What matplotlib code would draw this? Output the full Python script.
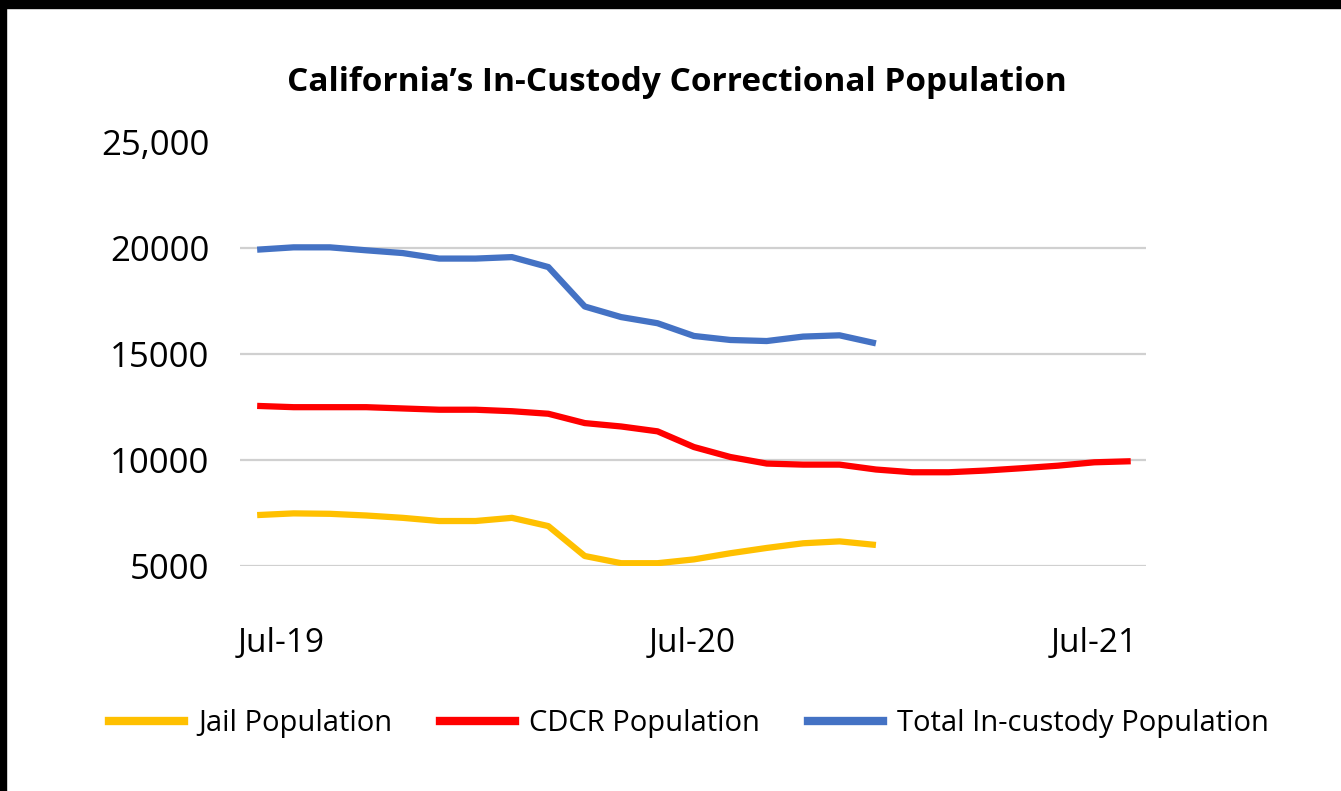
import matplotlib
matplotlib.use("Agg")
import matplotlib.pyplot as plt
from matplotlib.lines import Line2D

# monthly, Jul-19 .. Jul-21
months = list(range(25))
jail = [7400, 7480, 7460, 7380, 7270, 7120, 7120, 7270, 6880, 5470,
        5130, 5130, 5310, 5600, 5850, 6070, 6160, 5990]
cdcr = [12550, 12490, 12490, 12490, 12430, 12370, 12370, 12300, 12180, 11740,
        11580, 11350, 10610, 10140, 9830, 9780, 9780, 9550, 9420, 9420,
        9500, 9610, 9730, 9890, 9940]
total = [19920, 20030, 20030, 19890, 19760, 19500, 19500, 19570, 19100, 17240,
         16740, 16450, 15850, 15660, 15610, 15820, 15880, 15500]
ytick_vals = [5000, 10000, 15000, 20000, 25000]
ytick_labels = ["5000", "10000", "15000", "20000", "25,000"]
xtick_labels = ["Jul-19", "Jul-20", "Jul-21"]

c_jail = "#FFC000"
c_cdcr = "#FF0000"
c_total = "#4472C4"

plt.rcParams['font.family'] = ['Open Sans', 'DejaVu Sans']

fig = plt.figure(figsize=(13.41, 7.91), dpi=100)
ax = fig.add_axes([0.179, 0.2845, 0.6756, 0.5360])

lw = 4.5
ax.plot(months[:len(jail)], jail, color=c_jail, lw=lw, solid_capstyle="butt")
ax.plot(months[:len(cdcr)], cdcr, color=c_cdcr, lw=lw, solid_capstyle="butt")
ax.plot(months[:len(total)], total, color=c_total, lw=lw, solid_capstyle="butt")

ax.set_xlim(-0.47, 24.42)
ax.set_ylim(5000, 25000)
ax.set_yticks(ytick_vals)
ax.set_yticklabels(ytick_labels, fontsize=25)
ax.set_xticks([0.65, 11.95, 23.0])
ax.set_xticklabels(xtick_labels, fontsize=24)
ax.tick_params(axis="both", length=0)
ax.tick_params(axis="x", pad=44)
ax.tick_params(axis="y", pad=22)
for s in ax.spines.values():
    s.set_visible(False)
ax.yaxis.grid(True, color="#d0d0d0", lw=1.6)
ax.get_ygridlines()[-1].set_visible(False)
ax.set_axisbelow(True)

fig.text(0.5045, 0.896, "California\u2019s In-Custody Correctional Population",
         ha="center", va="center", fontsize=24, fontweight="bold")

handles = [Line2D([], [], color=c_jail, lw=6),
           Line2D([], [], color=c_cdcr, lw=6),
           Line2D([], [], color=c_total, lw=6)]
fig.legend(handles, ["Jail Population", "CDCR Population", "Total In-custody Population"],
           loc="center", bbox_to_anchor=(0.514, 0.085), ncol=3, frameon=False,
           fontsize=21, handlelength=2.55, handletextpad=0.5, columnspacing=1.65)

# black edge bands like the screenshot
fig.patches.append(plt.Rectangle((0, 1 - 8 / 791), 1, 8 / 791, transform=fig.transFigure,
                                 color="black", zorder=10))
fig.patches.append(plt.Rectangle((0, 0), 6 / 1341, 1, transform=fig.transFigure,
                                 color="black", zorder=10))

fig.savefig("out.png", dpi=100)
